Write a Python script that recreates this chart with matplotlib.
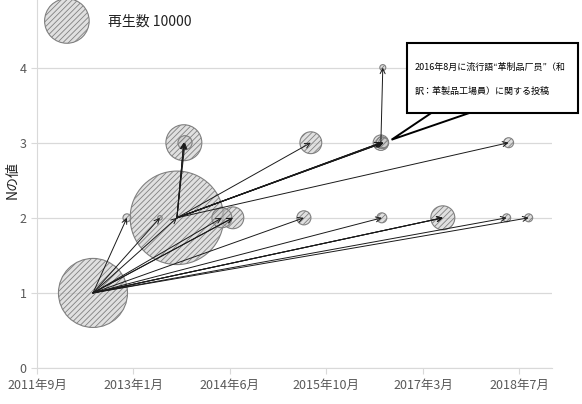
import numpy as np
import pandas as pd
import matplotlib
matplotlib.use("Agg")
import matplotlib.pyplot as plt
import matplotlib.dates as mdates
from matplotlib.patches import Rectangle, Polygon

plt.rcParams['font.family'] = ['Noto Sans CJK JP', 'DejaVu Sans']
plt.rcParams['hatch.color'] = '#555555'
plt.rcParams['hatch.linewidth'] = 0.6

# posts: date, N value, views
post_dates = ['2012-07-01', '2012-12-24', '2013-06-13', '2013-09-09', '2013-10-15',
              '2013-10-21', '2014-04-30', '2014-06-26', '2015-06-29', '2015-08-04',
              '2016-08-01', '2016-08-08', '2016-08-15', '2016-08-11', '2016-08-06',
              '2017-06-18', '2018-05-15', '2018-05-25', '2018-09-06']
post_n = [1, 2, 2, 2, 3, 3, 2, 2, 2, 3, 3, 3, 3, 4, 2, 2, 2, 3, 2]
post_views = [24000, 320, 100, 44000, 6500, 1000, 2000, 2400, 1000, 2400,
              1200, 700, 500, 180, 500, 2900, 320, 500, 320]

# references between posts (source -> target)
edge_src = [0, 0, 0, 0, 0, 0, 0, 0, 0, 0, 0, 0, 0,
            3, 3, 3, 3, 3, 3, 3, 3, 3, 3, 3, 3, 10]
edge_dst = [1, 2, 3, 6, 7, 7, 8, 14, 15, 15, 15, 16, 18,
            4, 4, 4, 5, 9, 10, 10, 11, 11, 12, 12, 17, 13]

tick_dates = pd.date_range('2011-09-15', periods=6, freq='500D')
tick_labels = ['2011年9月', '2013年1月', '2014年6月', '2015年10月', '2017年3月', '2018年7月']

legend_views = 10000
size_k = 0.103

dates = pd.to_datetime(post_dates)
xs = mdates.date2num(dates)

fig = plt.figure(figsize=(5.82, 4.04), dpi=100)
ax = fig.add_axes([0.0636, 0.089, 0.8849, 0.911])

order = np.argsort(post_views)[::-1]
face = (0.78, 0.78, 0.78, 0.55)
ax.scatter(xs[order], np.array(post_n)[order], s=np.array(post_views)[order] * size_k,
           facecolors=[face], edgecolors='#808080', linewidths=0.8, hatch='//////', zorder=2)

for s, d in zip(edge_src, edge_dst):
    ax.annotate('', xy=(xs[d], post_n[d]), xytext=(xs[s], post_n[s]),
                arrowprops=dict(arrowstyle='->', color='#1a1a1a', lw=0.7,
                                shrinkA=0, shrinkB=0, mutation_scale=9), zorder=3)

ax.set_xlim(mdates.date2num(pd.Timestamp('2011-09-15')), mdates.date2num(pd.Timestamp('2019-01-05')))
ax.set_ylim(0, 4.9)
ax.set_xticks(mdates.date2num(tick_dates))
ax.set_xticklabels(tick_labels)
ax.set_yticks([0, 1, 2, 3, 4])
ax.tick_params(colors='#d9d9d9', labelcolor='#595959', labelsize=9, length=4)
ax.grid(axis='y', color='#d9d9d9', lw=0.9)
ax.set_axisbelow(True)
for sp in ['top', 'right']:
    ax.spines[sp].set_visible(False)
for sp in ['left', 'bottom']:
    ax.spines[sp].set_color('#d9d9d9')

ax.set_ylabel('Nの値', fontsize=10, color='#222222')
ax.yaxis.set_label_coords(-0.034, 0.51)

# legend bubble
ax.scatter([0.058], [0.943], s=legend_views * size_k, transform=ax.transAxes,
           facecolors=[face], edgecolors='#808080', linewidths=0.8, hatch='//////',
           clip_on=False, zorder=4)
ax.text(0.138, 0.94, '再生数 10000', transform=ax.transAxes, fontsize=10,
        color='#222222', va='center', ha='left')

# callout pointing at the 2016-08 cluster
tip = ax.transData.transform((xs[12], post_n[12])) + np.array([8, 3])
tip = ax.transAxes.inverted().transform(tip)
ax.add_patch(Polygon([(0.773, 0.70), tuple(tip), (0.854, 0.70)], closed=True,
                     transform=ax.transAxes, fc='white', ec='black', lw=1.4,
                     joinstyle='miter', clip_on=False, zorder=5))
ax.add_patch(Rectangle((0.718, 0.693), 0.332, 0.19, transform=ax.transAxes, fc='white',
                       ec='black', lw=1.5, clip_on=False, zorder=6))
ax.text(0.734, 0.818, '2016年8月に流行語“革制品厂员”（和', transform=ax.transAxes,
        fontsize=6.5, va='center', ha='left', zorder=7)
ax.text(0.734, 0.753, '訳：革製品工場員）に関する投稿', transform=ax.transAxes,
        fontsize=6.5, va='center', ha='left', zorder=7)

fig.savefig('out.png', dpi=100)
